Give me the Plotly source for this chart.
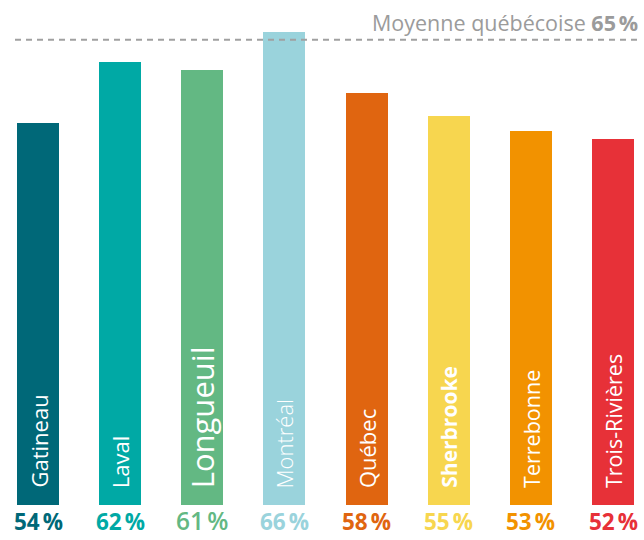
import plotly.graph_objects as go

cities = ["Gatineau", "Laval", "Longueuil", "Montréal", "Québec", "Sherbrooke", "Terrebonne", "Trois-Rivières"]
values = [54, 62, 61, 66, 58, 55, 53, 52]
colors = ["#006878", "#00A9A5", "#63B883", "#9AD3DC", "#E06510", "#F7D64F", "#F29200", "#E73138"]
average = 65
avg_label = "Moyenne québécoise <b>65\u202f%</b>"

FONT = "Open Sans"
name_sizes = [22, 22, 31, 22, 22, 21, 21.5, 21.5]
name_weights = [400, 400, 400, 300, 400, 700, 400, 400]
pct_sizes = [22.5, 22.5, 24.5, 22.5, 22.5, 22.5, 22.5, 22.5]
pct_weights = [700, 700, 600, 700, 700, 700, 700, 700]

x = list(range(len(cities)))

fig = go.Figure()
fig.add_trace(go.Bar(
    x=x, y=values, base=0, width=0.511,
    marker=dict(color=colors, line=dict(width=0)),
    hoverinfo="skip", showlegend=False,
))

H = 505.0
def py(p):
    return (H - p) / H

annotations = []
for i, c in enumerate(cities):
    annotations.append(dict(
        x=i, y=py(490), xref="x", yref="paper", text=c, textangle=-90,
        showarrow=False, xanchor="center", yanchor="bottom",
        font=dict(family=FONT, size=name_sizes[i], color="white", weight=name_weights[i]),
    ))
    annotations.append(dict(
        x=i, y=py(539), xref="x", yref="paper", text=f"{values[i]}\u202f%",
        showarrow=False, xanchor="center", yanchor="bottom",
        font=dict(family=FONT, size=pct_sizes[i], color=colors[i], weight=pct_weights[i]),
    ))

annotations.append(dict(
    x=640 / 644, y=py(22), xref="paper", yref="paper", text=avg_label,
    showarrow=False, xanchor="right", yanchor="middle",
    font=dict(family=FONT, size=21.5, color="#9B9B9B"),
))

fig.add_shape(type="line", xref="paper", yref="y", x0=15 / 644, x1=640 / 644,
              y0=average, y1=average, line=dict(color="#A0A0A0", width=2, dash="6px,5px"),
              layer="above")

fig.update_layout(
    width=644, height=540,
    margin=dict(l=0, r=0, t=0, b=35),
    paper_bgcolor="white", plot_bgcolor="white",
    xaxis=dict(range=[-0.4626, 7.377], visible=False, fixedrange=True),
    yaxis=dict(range=[3.93, 70.2], visible=False, fixedrange=True),
    annotations=annotations,
    bargap=0,
)

fig.write_html("out.html")
